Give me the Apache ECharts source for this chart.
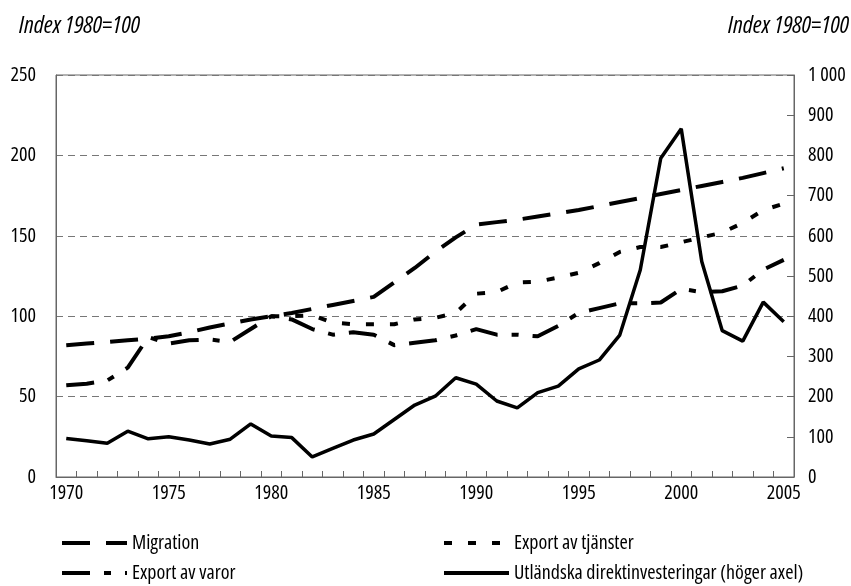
<!DOCTYPE html>
<html>
<head>
<meta charset="utf-8">
<script src="https://cdn.jsdelivr.net/npm/echarts@6/dist/echarts.min.js"></script>
<style>
  html, body { margin: 0; padding: 0; background: #fff; }
  #chart { width: 851px; height: 586px; }
</style>
</head>
<body>
<div id="chart"></div>
<script>
const years = [];
for (let y = 1970; y <= 2005; y++) years.push(String(y));

// index 1980=100, left axis
const migration = [82, 83, 84, 85, 86, 87.5, 90, 93, 95.5, 98,
  100, 102, 104.5, 107, 109.5, 112, 121, 130, 140, 149,
  157, 158.5, 160, 162, 164, 166, 168.5, 171, 173.5, 176,
  178.5, 181, 183.5, 186, 189, 192];
const exportVaror = [57, 58, 60, 68, 87, 83, 85, 85.5, 84, 92,
  100, 98, 92, 88.5, 90, 88.5, 82, 83.5, 85, 88,
  92, 88.5, 88.5, 87.5, 94, 102, 105, 108, 108, 108.5,
  117, 115, 115.5, 119, 129, 135];
const exportTjanster = [null, null, null, null, null, null, null, null, null, null,
  100, 100, 100.5, 96, 95, 95, 95, 98, 99, 102,
  114, 115, 121, 121.5, 124, 127, 133, 140, 143, 143,
  146, 149, 152, 158, 166, 170];
// right axis
const direktinv = [96, 90, 84, 114, 95, 100, 92, 82, 94, 132,
  102, 98, 50, 71, 92, 107, 143, 179, 201, 247,
  231, 189, 172, 210, 226, 269, 291, 353, 515, 793,
  866, 536, 364, 338, 435, 386];

// Open Sans with font-stretch condensed (passed through fontWeight)
const FONT = "'Open Sans', Roboto, sans-serif";
const STRETCH = 'condensed';

const chart = echarts.init(document.getElementById('chart'));

function legendItem(name, left, top) {
  return {
    data: [name], left: left, top: top, padding: 0,
    itemWidth: 65, itemHeight: 18,
    itemStyle: { opacity: 0 },
    lineStyle: { width: 4 },
    textStyle: { fontFamily: FONT, fontWeight: STRETCH, fontSize: 20, color: '#000' }
  };
}

const titleStyle = { fontFamily: FONT, fontStyle: 'italic', fontWeight: STRETCH, fontSize: 24, color: '#000' };
const labelStyle = { fontSize: 20, color: '#000', fontFamily: FONT, fontWeight: STRETCH };

const option = {
  backgroundColor: '#fff',
  animation: false,
  textStyle: { fontFamily: FONT, fontWeight: STRETCH, color: '#000' },
  title: [
    { text: 'Index 1980=100', left: 19, top: 14, padding: 0, textStyle: titleStyle },
    { text: 'Index 1980=100', right: 2, top: 14, padding: 0, textStyle: titleStyle }
  ],
  grid: {
    left: 56, right: 57, top: 75, bottom: 109,
    show: true, borderColor: '#666', borderWidth: 1
  },
  legend: [
    legendItem('Migration', 60, 533),
    legendItem('Export av varor', 60, 563),
    legendItem('Export av tjänster', 442, 533),
    legendItem('Utländska direktinvesteringar (höger axel)', 442, 563)
  ],
  xAxis: {
    type: 'category',
    data: years,
    boundaryGap: true,
    axisLine: { lineStyle: { color: '#666', width: 1 } },
    axisTick: { show: true, inside: true, length: 6, interval: 0, lineStyle: { color: '#666' } },
    axisLabel: Object.assign({ interval: 4, margin: 6 }, labelStyle)
  },
  yAxis: [
    {
      type: 'value', min: 0, max: 250, interval: 50,
      axisLine: { show: true, lineStyle: { color: '#666', width: 1 } },
      axisTick: { show: false },
      axisLabel: Object.assign({ margin: 20 }, labelStyle),
      splitLine: { show: true, lineStyle: { color: '#777', type: [7, 5], width: 1 } }
    },
    {
      type: 'value', min: 0, max: 1000, interval: 100,
      position: 'right',
      axisLine: { show: true, lineStyle: { color: '#666', width: 1 } },
      axisTick: { show: true, inside: true, length: 7, lineStyle: { color: '#666' } },
      axisLabel: Object.assign({
        margin: 14,
        formatter: v => v >= 1000 ? '1 000' : String(v)
      }, labelStyle),
      splitLine: { show: false }
    }
  ],
  series: [
    {
      name: 'Migration', type: 'line', data: migration, yAxisIndex: 0,
      symbol: 'none', color: '#000',
      lineStyle: { color: '#000', width: 4, type: [28, 16], cap: 'butt' }
    },
    {
      name: 'Export av tjänster', type: 'line', data: exportTjanster, yAxisIndex: 0,
      symbol: 'none', color: '#000',
      lineStyle: { color: '#000', width: 4, type: [8, 16], cap: 'butt' }
    },
    {
      name: 'Export av varor', type: 'line', data: exportVaror, yAxisIndex: 0,
      symbol: 'none', color: '#000',
      lineStyle: { color: '#000', width: 4, type: [28, 14, 7, 14], cap: 'butt' }
    },
    {
      name: 'Utländska direktinvesteringar (höger axel)', type: 'line', data: direktinv, yAxisIndex: 1,
      symbol: 'none', color: '#000',
      lineStyle: { color: '#000', width: 3.5, type: 'solid' }
    }
  ]
};

chart.setOption(option);
</script>
</body>
</html>
